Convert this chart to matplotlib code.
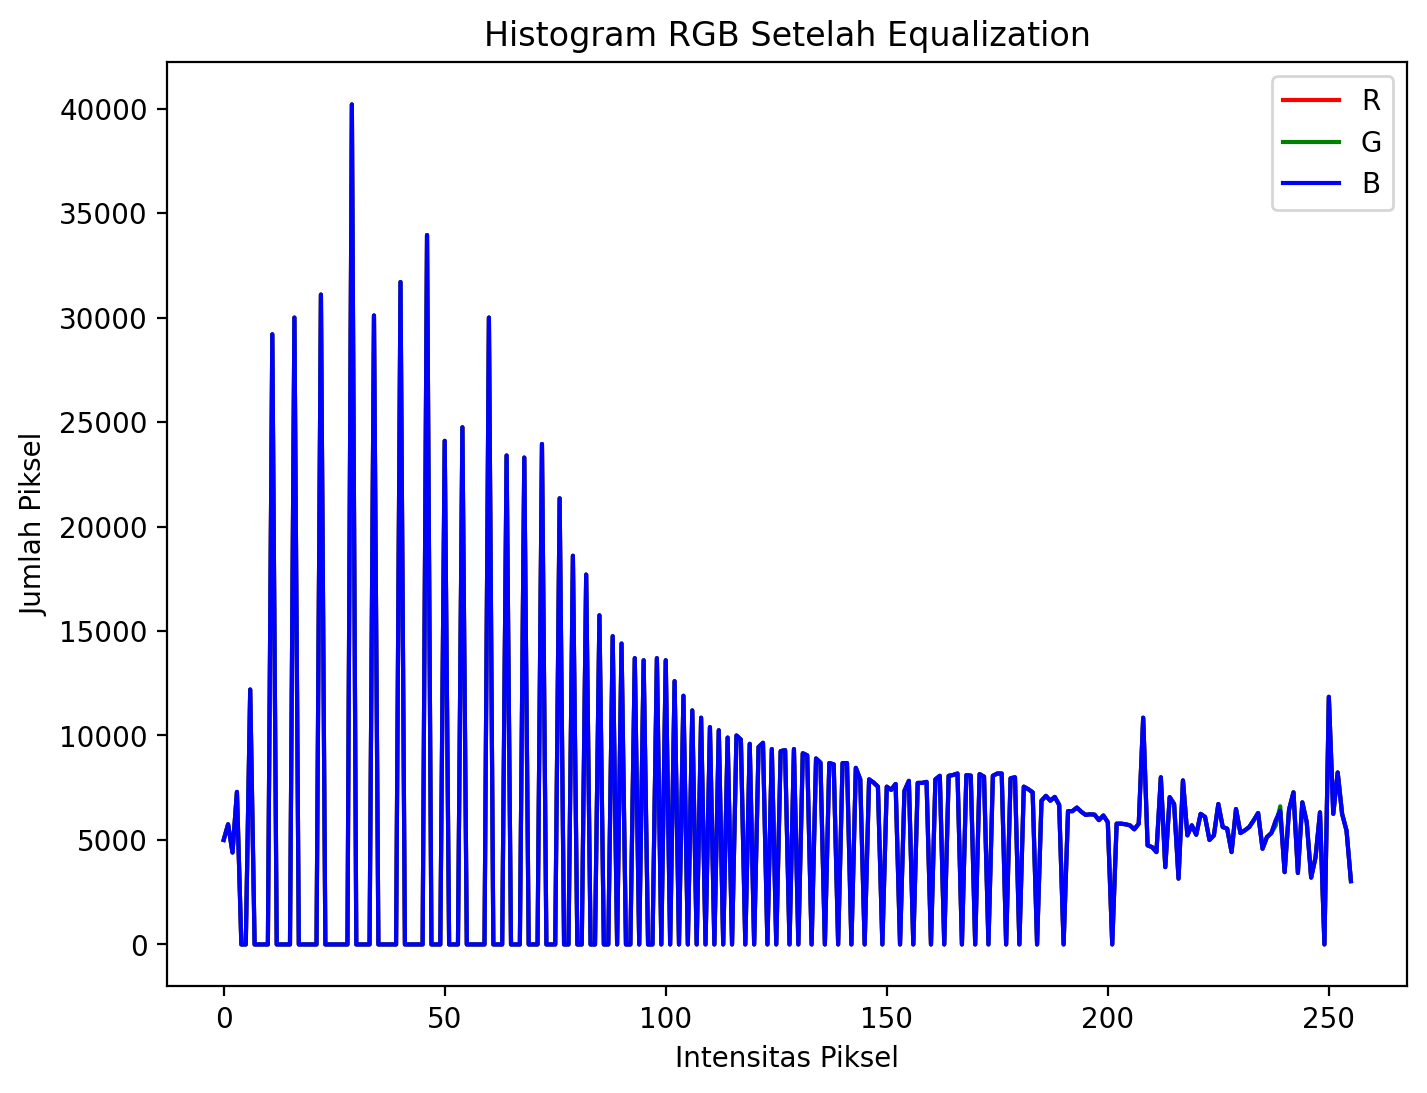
import matplotlib
matplotlib.use('agg')
import matplotlib.pyplot as plt
import numpy as np

# histogram counts per intensity (0..255)
hist_b = [
    5000, 5750, 4400, 7300, 0, 0, 12200, 0, 0, 0,                    # 0-9
    0, 29200, 0, 0, 0, 0, 30000, 0, 0, 0,                            # 10-19
    0, 0, 31100, 0, 0, 0, 0, 0, 0, 40200,                            # 20-29
    0, 0, 0, 0, 30100, 0, 0, 0, 0, 0,                                # 30-39
    31700, 0, 0, 0, 0, 0, 33950, 0, 0, 0,                            # 40-49
    24100, 0, 0, 0, 24750, 0, 0, 0, 0, 0,                            # 50-59
    30000, 0, 0, 0, 23400, 0, 0, 0, 23300, 0,                        # 60-69
    0, 0, 23950, 0, 0, 0, 21350, 0, 0, 18600,                        # 70-79
    0, 0, 17700, 0, 0, 15750, 0, 0, 14750, 0,                        # 80-89
    14400, 0, 0, 13700, 0, 13600, 0, 0, 13700, 0,                    # 90-99
    13600, 0, 12600, 0, 11900, 0, 11200, 0, 10850, 0,                # 100-109
    10400, 0, 10250, 0, 9900, 0, 10000, 9800, 0, 9600,               # 110-119
    0, 9450, 9650, 0, 9350, 0, 9250, 9300, 0, 9350,                  # 120-129
    0, 9150, 9050, 0, 8900, 8700, 0, 8680, 8620, 0,                  # 130-139
    8680, 8680, 0, 8450, 7900, 0, 7900, 7750, 7550, 0,               # 140-149
    7550, 7400, 7680, 0, 7350, 7830, 0, 7730, 7730, 7780,            # 150-159
    0, 7900, 8070, 0, 8070, 8110, 8180, 0, 8100, 8080,               # 160-169
    0, 8150, 8030, 0, 8070, 8180, 8180, 0, 7950, 8000,               # 170-179
    0, 7550, 7430, 7280, 0, 6880, 7110, 6880, 7060, 6680,            # 180-189
    0, 6380, 6380, 6550, 6350, 6200, 6230, 6210, 5950, 6170,         # 190-199
    5850, 0, 5780, 5780, 5750, 5700, 5510, 5780, 10850, 4740,        # 200-209
    4660, 4420, 8000, 3700, 7050, 6720, 3150, 7850, 5220, 5700,      # 210-219
    5250, 6250, 6100, 5000, 5220, 6720, 5620, 5540, 4420, 6480,      # 220-229
    5330, 5460, 5620, 5940, 6290, 4580, 5140, 5330, 5940, 6400,      # 230-239
    3460, 6450, 7280, 3420, 6800, 5850, 3200, 4180, 6320, 0,         # 240-249
    11850, 6250, 8230, 6250, 5450, 3030,                             # 250-255
]
hist_r = list(hist_b)
hist_g = list(hist_b)
# green only peeks out from under blue around 238-239
hist_g[238] = 5700
hist_g[239] = 6610

intensity = np.arange(256)

plt.figure(figsize=(8, 6))
plt.plot(intensity, hist_r, color='r', label='R')
plt.plot(intensity, hist_g, color='g', label='G')
plt.plot(intensity, hist_b, color='b', label='B')
plt.title("Histogram RGB Setelah Equalization")
plt.xlabel("Intensitas Piksel")
plt.ylabel("Jumlah Piksel")
plt.legend()
plt.savefig("out.png", dpi=200, bbox_inches='tight')
plt.close()
